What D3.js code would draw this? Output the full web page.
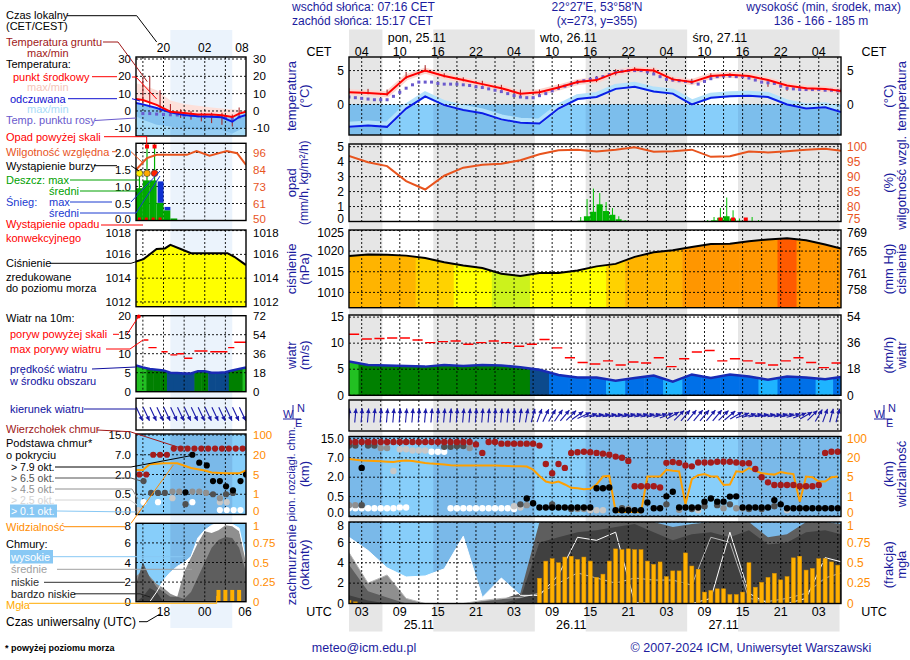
<!DOCTYPE html>
<html><head><meta charset="utf-8">
<script src="https://cdn.jsdelivr.net/npm/d3@7/dist/d3.min.js"></script>
<style>
html,body{margin:0;padding:0;background:#fff;}
svg text{font-family:"Liberation Sans",Arial,Helvetica,sans-serif;}
</style></head><body>
<svg id="chart" width="910" height="660" xmlns="http://www.w3.org/2000/svg"></svg>
<script>
// ======================= DATA =======================
const sunriseUTC = 6.27, sunsetUTC = 14.28;           // 07:16 / 15:17 CET
const hours = [1,4,7,10,13,16,19,22,25,28,31,34,37,40,43,46,49,52,55,58,61,64,67,70,73,76,78.5];
const tempMid   = [1.8,1.7,1.5,4.0,5.0,4.2,3.6,3.0,2.4,1.6,1.8,2.5,3.3,3.6,4.7,5.15,5.0,3.7,3.3,4.2,4.4,4.2,3.6,2.8,2.4,2.3,2.0];
const tempFeels = [-3.3,-3.1,-3.3,-0.6,1.2,-0.1,-0.8,-1.3,-2.2,-2.7,-2.8,-0.6,0.8,1.1,2.3,2.6,1.9,1.6,0.0,1.0,1.2,1.3,1.1,0.0,-0.6,-0.4,-1.1];
const groundMax = [2.4,2.3,2.2,4.8,5.8,4.6,4.0,3.5,2.9,2.2,2.2,3.0,3.6,4.2,5.2,5.5,5.4,4.0,3.8,4.6,4.6,4.2,3.3,2.6,2.5,2.4,2.2];
const groundMin = [1.6,1.5,1.3,3.8,4.8,4.0,3.4,2.8,2.2,1.2,1.4,2.2,3.0,3.3,4.3,4.8,4.6,3.4,3.0,3.9,4.0,3.8,2.6,2.0,2.0,2.0,1.8];
const dewPoint = [1.1,1.0,0.9,0.8,0.7,0.7,0.7,1.2,1.8,2.4, 2.9,3.3,3.3,3.3,3.1,3.0,3.0,3.0,2.9,2.8,
  2.6,2.5,2.3,2.1,1.9,1.6,1.3,1.1,1.0,1.0, 1.3,1.6,2.0,2.4,2.7,3.0,3.3,3.5,3.7,3.9,
  4.1,4.4,4.7,4.9,5.0,5.0,5.0,4.8,4.5,4.1, 3.7,3.6,3.5,3.4,3.3,3.0,3.4,3.8,4.1,4.2,
  4.2,4.1,4.1,3.9,3.6,3.3,3.2,3.1,2.7,2.4, 2.3,2.2,2.2,2.2,2.2,2.1,2.1,2.0];
const humidity = [96.9,94.8,93.5,88.5,85.7,90.3,93.0,94.0,94.3,95.5,97.5,98.8,99.0,98.4,99.0,99.8,98.3,98.5,99.0,96.6,96.8,98.4,98.1,98.5,99.0,99.3,98.6];
const precipHours = [37,38,39,40,41,42,43,44,57,58,59,60,61,62,63,64,65];
const rainMean = [0.05,0.35,0.65,1.15,0.7,0.45,0.15,0.05,0.02,0.08,0.25,0.35,0.2,0.05,0.03,0.02,0.01];
const rainMax  = [0.3,1.5,2.2,1.9,1.3,0.9,0.35,0.1,0.1,0.3,0.9,1.6,0.75,0.2,0.2,0.3,0.1];
const convHours = [59.5,61.5,63.5];
const pressure = [1018.8,1019.2,1019.1,1018.9,1018.3,1017.3,1016.5,1015.9,1014.5,1014.0,1014.7,1014.7,1015.3,1016.3,1016.9,1018.6,1019.7,1020.2,1021.0,1021.7,1021.8,1022.4,1022.8,1023.1,1022.6,1021.6,1020.6];
const windSpeed = [6.5,5.8,5.7,5.6,5.5,5.8,5.6,5.8,5.7,5.4,4.9,3.9,3.4,3.4,2.8,3.3,3.8,2.6,4.0,3.3,4.0,3.6,3.0,3.6,3.4,3.1,3.5];
const gustHours = [1,3,5,7,9,11,13,15,17,19,21,23,25,27,29,31,33,35,37,39,41,43,45,47,49,51,53,55,57,59,61,63,65,67,69,71,73,75,77];
const gusts = [11.7,10.8,10.9,11.0,11.0,10.6,10.1,10.3,10.4,9.8,10.1,10.4,10.1,9.4,9.8,10.7,9.1,7.2,6.3,6.0,6.6,5.8,6.4,6.2,7.2,5.5,7.0,8.3,8.6,6.6,7.0,6.6,6.2,5.8,6.6,7.2,6.3,5.3,6.2];
const windDir = [5,5,5,5,5,5,5,5,5,5, 5,5,5,5,5,5,5,5,5,5, 5,5,5,5,5,5,5,8,10,
  15,20,25,30,35,40,45,55,65, 75,80,80,80,80,80,78,78,78,78,78,75,70,60,
  45,40,40,40,40,40,40,45,50,60, 70,75,78,80,80,80,78,78,75,70,60,45, 30,20,15,15];
const cloudTop = [13.5,13.5,13.5,13.5,13.5,13.5,13.5,13.5,13.5,13.5, 13.5,13.5,13.5,13.5,13.5,13.5,13.5,13.5,13.5,13.5,
  12.5,9.0,13.5,13.5,12.8,12.8,12.8,12.8,12.8,12.8, 12.0,5.4,3.0,5.4,4.4,9.0,9.3,9.5,9.3,9.0,
  8.7,8.3,7.5,7.0,6.2,1.3,1.3,1.3,1.3,1.2, 5.7,5.9,5.7,5.0,4.8,5.8,5.8,5.8,6.0,6.0,
  6.0,5.8,5.6,5.6,4.1,2.0,1.6,1.4,1.4,1.4, 1.4,1.3,1.3,1.3,1.4,9.0,9.5,9.5];
const base79 = [null,null,4.4,null,null,null,null,null,null,null, null,null,null,null,null,null,null,null,null,null,
  null,null,null,null,null,null,null,null,0.45,0.33, 0.22,0.22,0.22,0.22,0.22,0.22,0.22,0.22,0.22,1.15,
  1.15,1.2,0.15,0.15,0.15,0.15,0.15,0.35,0.2,0.2, 0.52,0.87,0.22,0.22,0.22,0.22,0.37,0.45,0.37,0.37,
  0.5,0.52,0.22,0.22,0.22,0.22,0.22,0.41,0.3,0.2, 0.2,0.2,0.2,0.2,0.2,0.2,0.2,0.2];
const base65 = [[1,12.0],[2,12.0],[3,0.28],[4,12.0],[5,12.0],[16,11.5],[17,11.5],[18,11.8],[19,11.8],[28,0.3],[33,0.3],[36,0.18],[44,0.2],[51,0.3],[55,0.18],[57,0.25],[59,0.28],[61,0.3],[64,0.18],[66,0.18],[68,0.25]];
const base45 = [[1,0.28],[2,0.28],[6,11.0],[7,11.0],[20,11.0],[29,0.28],[37,0.18],[38,0.18],[45,0.18],[53,0.16],[60,0.2],[62,0.2],[63,0.2]];
const base25 = [[8,3.6],[9,10.5],[10,10.5],[11,10.0],[12,10.0],[13,10.0],[27,0.25],[28,0.22],[39,0.15],[40,0.15],[41,0.15],[56,0.15],[70,0.15]];
const base01 = [[1,0.2],[2,0.2],[3,0.2],[4,0.2],[5,0.2],[6,0.2],[7,0.2],[8,0.2],[9,0.22],[10,0.22],[14,9.5],[15,9.5],[16,9.5],[17,0.2],[18,0.2],[19,0.2],[20,0.2],[21,0.2],[22,0.2],[23,0.2],[24,0.2],[25,0.2],[26,0.2],[27,0.18]];
const visibility = [19,18.5,18,17.8,17.5,17.3,17,16.8,17.5,17.9, 17.5,16.8,16,15.5,15.2,14.8,14.3,14,14,14,
  14,14,14,14,13.8,13.6,13.5,13.4,13.2,10.8, 6,4.1,3.8,4.1,3.5,2.8,2.7,2.5,2.6,3.5,
  5.5,6,0.22,0.2,0.2,0.2,0.19,5.5,5.5,5.6, 10.8,10,9.5,0.6,4.6,6.5,7.4,5.5,5.6,3.4,
  3.5,9.5,9,12.1,10,8,7.4,7,9,8, 7.4,0.74,5.5,5,4.1,4.1,5,5.5];
const cloudHigh = [6.5,5.2,3.5,2.6,2.7,3.4,6.6,0.6,2.5,0.8,0.8,2.8,6.5,6.2,7.0,0.1,0,0,0,0.5,7.0,1.0,0,0,0.5,4.5,4.1];
const cloudMid  = [5.0,2.0,2.8,0.5,0,0,0,0.3,0.5,0.6,1.0,2.0,3.0,2.5,2.0,2.5,2.3,2.3,1.8,6.5,6.0,0.5,0.2,0.5,1.0,2.5,3.0];
const cloudLow  = [3.8,1.2,0.6,0,0,0,0,0.2,0.4,1.0,8.0,8.0,8.0,8.0,8.0,8.0,8.0,7.5,7.8,8.0,8.0,8.0,6.5,6.8,8.0,8.0,7.8];
const cloudVLow = [0.8,0.3,0,0,0,0,0,0,0,0.5,6.0,6.5,7.0,7.2,7.5,7.8,7.0,6.2,6.8,7.0,6.5,7.2,5.8,6.0,7.0,7.2,6.8];
const fog = [0.04,0.02,0,0,0,0,0,0,0,0, 0,0,0,0,0,0,0,0,0,0, 0,0,0,0,0,0,0,0,0,0,
  0.31,0.52,0.55,0.50,0.57,0.58,0.54,0.57,0.52,0.32, 0.36,0.52,0.67,0.66,0.67,0.66,0.66,0.52,0.48,0.51,
  0.33,0.40,0.40,0.62,0.46,0.42,0.14,0.16,0.18,0.18, 0.11,0.11,0.14,0.50,0.20,0.26,0.32,0.37,0.29,0.33,
  0.56,0.58,0.41,0.43,0.55,0.55,0.51,0.47];
// tick labels
const cetLabels = ["04","10","16","22","04","10","16","22","04","10","16","22","04"];
const utcLabels = ["03","09","15","21","03","09","15","21","03","09","15","21","03"];
const dayLabels = ["pon, 25.11","wto, 26.11","śro, 27.11"];
const dateLabels = ["25.11","26.11","27.11"];
const tempTicks = [5,0];
const precipTicks = [5,4,3,2,1,0];
const rhTicks = [100,95,90,85,80,75];
const pressTicks = [1025,1020,1015,1010];
const mmHgTicks = [769,765,761,758];
const windTicks = [15,10,5,0];
const kmhTicks = [54,36,18,0];
const baseTicks = [15,7,2,0.5,0];
const visTicks = [100,20,5,1,0];
const cloudTicks = [8,6,4,2,0];
const fogTicks = [1,0.75,0.5,0.25,0];
// legend (mini) data, CET hours
const miniTH = [16,17,19,21,23,25,27,28.5,30,31,32];
const miniTemp  = [6.9,6.3,3.5,-0.4,-1.2,-2.0,-2.0,-2.5,-3.5,-1.5,-0.4];
const miniFeels = [4.6,3.8,1.7,-0.8,-2.3,-3.0,-3.3,-3.6,-6.2,-3.5,-2.3];
const miniTMax  = [16,15,12,6,4,3,2,1.5,1,0.5,0];
const miniFeelsMin = [-3,-5,-8,-9,-10,-11,-11,-11,-13,-11,-9];
const miniDewH = [17,18,19,20,21,22,23,24,25,26,27,28,29,30,31];
const miniDew  = [-1.5,-1.5,-1.8,-2,-2.2,-2.3,-2.5,-2.5,-2.8,-3,-3,-3.2,-3.8,-4.5,-3.5];
const miniGroundH = [17,18,19.5,21,22.5,24,25.5,27,28.5,30,31];
const miniGroundMax = [19,20,12,4,1,0,-1,-1,-1,-2,2];
const miniGroundMin = [3,2,-1,-2,-4,-5,-6,-7,-8,-9,-4];
const miniRainH = [16,17,18,19,20,21];
const miniRain  = [0.95,1.18,1.18,0.52,0.3,0.06];
const miniSnow  = [0,0,0,0.63,0.1,0];
const miniRainMaxH = [16.5,17.6,18.7];
const miniRainMax  = [1.35,2.6,2.6];
const miniStormColors = ["#ffee00","#ffaa00","#ff2000"];
const miniConvH = [16.5,17.5,18.5,19.5];
const miniRHH = [16,17.6,19,23.4,24.8,26.7,29.2,30.7,32];
const miniRH  = [84.3,92.2,94.4,94.4,96.9,93.8,97.0,95.5,87.7];
const miniPressH = [16,17.1,19,20.2,21,22.5,24,29.3,30.3,32];
const miniPress  = [1015.4,1015.6,1016.45,1016.5,1016.8,1016.45,1016.1,1016.1,1015.8,1015.1];
const miniWindH = [16,17,18,19,20,21,22,23,24,25,26,27,28,29,30,31,32];
const miniWind  = [6.9,6.4,6.0,5.8,5.6,5.0,4.9,4.8,4.8,5.4,5.4,5.0,5.0,5.1,5.6,6.0,6.4];
const miniGusts = [[17.1,17.8,13.6],[17.8,19,11.6],[19.7,20.6,10.5],[21,22,9.7],[22,23,10.0],[23,24.2,8.8],[24.5,26.4,10.7],[26.8,29.3,10.5],[29.4,30.3,11.6],[30.3,32,13.0]];
const miniDirH = [16.5,17.5,18.5,19.5,20.5,21.5,22.5,23.5,24.5,25.5,26.5,27.5,28.5,29.5,30.5,31.5];
const miniCbTop = [[16.5,2],[17.5,2],[18.5,7],[19.5,7],[20.5,7],[21.5,9.5],[22.5,9.5],[23.5,9.5],[24.5,9.5],[25.5,9.5],[26.5,9.5],[27.5,9.5],[28.5,9.5],[29.5,9.5],[30.5,9.5],[31.5,9.5]];
const miniCb79 = [[23.2,0.65],[24.2,7.0],[25.2,5.0],[26.3,4.3],[27.2,1.5],[28.2,1.5],[29.1,1.1],[30.1,0.8],[31.2,1.5],[32,2.0]];
const miniCb65 = [[17.1,1.5],[18.2,0.6],[19.2,0.6],[20.2,0.6],[23.2,0.25],[27.2,0.5],[29.1,0.5],[30.1,0.6]];
const miniCb45 = [[21.3,0.7],[22.3,0.7],[24.2,0.7],[25.2,0.7],[26.2,0.6],[28.2,0.4]];
const miniCb25 = [[16.3,0.1],[21.3,0.4],[28.2,0.3],[29.2,0.3]];
const miniCb01 = [[17.1,0.3],[19.2,0.3],[24.2,0.3],[28.2,0.1],[29.2,0.1],[30.2,0.1],[31.2,0.1]];
const miniVisH = [16,17,18,20,22,24,26,27,29,31,32];
const miniVis  = [8.4,8.4,12.8,13.5,13.5,10,8,6.5,5.9,5.9,8];
const miniCloudH = [16,17,18,19,20,21,22,23,24,25,26,27,28,29,30,31,32];
const miniHigh = [0,0,0,1.0,2.2,3.0,3.6,4.0,4.6,6.5,7.3,7.8,8.0,7.9,7.9,7.5,4.2];
const miniMid  = [2.6,3.2,2.6,1.8,1.4,0.8,0.5,3.0,4.5,6.0,7.2,7.0,7.3,7.8,7.7,7.2,4.3];
const miniLow  = [1.8,4.0,2.5,1.5,1.0,0.5,0.5,0.3,1.0,2.5,4.0,5.5,6.3,6.6,6.5,5.5,3.0];
const miniVLow = [0,0.5,1.4,1.0,0,0,0,0,0,0,0,0,0,0,0,0,0];
const miniFogH = [28,29,30,31];
const miniFog  = [0.15,0.15,0.15,0.15];

// ======================= DRAW =======================
const svg = d3.select("#chart");
const NAVY = "#1c1c9e", ORANGE = "#ff8c00", RHC = "#e8541e";
svg.append("rect").attr("width",910).attr("height",660).attr("fill","#fff");
const defs = svg.append("defs");
let clipN = 0;
function clipRect(x0,y0,w,h){const id="cl"+(clipN++);defs.append("clipPath").attr("id",id).append("rect").attr("x",x0).attr("y",y0).attr("width",w).attr("height",h);return `url(#${id})`;}
function clipD(d){const id="cl"+(clipN++);defs.append("clipPath").attr("id",id).append("path").attr("d",d);return `url(#${id})`;}
function T(g,x,y,s,o={}){const t=g.append("text").attr("x",x).attr("y",y).attr("dy","0.35em")
  .attr("font-size",o.size||12).attr("fill",o.fill||"#000").attr("text-anchor",o.anchor||"start").text(s);
  if(o.weight)t.attr("font-weight",o.weight); if(o.rot)t.attr("transform",`rotate(-90,${x},${y})`); return t;}
function L(g,pts,c,w=1){g.append("polyline").attr("points",pts.map(p=>p.join(",")).join(" ")).attr("fill","none").attr("stroke",c).attr("stroke-width",w);}
function R(g,x0,y0,w,h,f){return g.append("rect").attr("x",x0).attr("y",y0).attr("width",Math.max(0,w)).attr("height",Math.max(0,h)).attr("fill",f);}
function arrow(g,cx,cy,deg,len,c){const r=deg*Math.PI/180,dx=Math.sin(r),dy=-Math.cos(r);
  const x1=cx-dx*len/2,y1=cy-dy*len/2,x2=cx+dx*len/2,y2=cy+dy*len/2;
  g.append("line").attr("x1",x1).attr("y1",y1).attr("x2",x2).attr("y2",y2).attr("stroke",c).attr("stroke-width",1.1);
  const hl=4.5,hw=2.3,bx=x2-dx*hl,by=y2-dy*hl,px=-dy,py=dx;
  g.append("path").attr("d",`M${x2},${y2}L${bx+px*hw},${by+py*hw}L${bx-px*hw},${by-py*hw}Z`).attr("fill",c);}
const windColor = d3.scaleThreshold().domain([2.5,3.3,4.5,5.2,6.3]).range(["#00e6ff","#1eb4ff","#0070e8","#0c4a8c","#008000","#22c022"]);
const pressColor = d3.scaleThreshold().domain([1014.6,1016.8,1018.5,1020.3,1022.9]).range(["#ccf21c","#ffff00","#ffd200","#ffb400","#ff9600","#ff5a00"]);

// ---------- main time axis ----------
const X0=349, X1=841, H0=1, H1=78.5;
const x = d3.scaleLinear().domain([H0,H1]).range([X0,X1]);
const nights=[];
for(let d=0;d<4;d++){const a=Math.max(H0,(d-1)*24+sunsetUTC),b=Math.min(H1,d*24+sunriseUTC);if(b>a)nights.push([a,b]);}
const gridHours = d3.range(3,H1,3);
const labelHours = d3.range(3,H1,6);

const gb = svg.append("g");
R(gb,X0,29.5,X1-X0,602,"#ffffff");
nights.forEach(n=>R(gb,x(n[0]),29.5,x(n[1])-x(n[0]),602,"#e6e6e6"));

function panel(y0,y1){return svg.append("g").attr("clip-path",clipRect(X0,y0,X1-X0,y1-y0));}
function bands(g,y0,y1,day,night){R(g,X0,y0,X1-X0,y1-y0,day);nights.forEach(n=>R(g,x(n[0]),y0,x(n[1])-x(n[0]),y1-y0,night));}
function grid(g,y0,y1,ys){
  gridHours.forEach(h=>g.append("line").attr("x1",x(h)).attr("x2",x(h)).attr("y1",y0).attr("y2",y1).attr("stroke","#000").attr("stroke-width",0.9).attr("stroke-dasharray","2,2"));
  ys.forEach(y=>g.append("line").attr("x1",X0).attr("x2",X1).attr("y1",y).attr("y2",y).attr("stroke","#000").attr("stroke-width",0.9).attr("stroke-dasharray","2,2"));}
function frame(y0,y1){svg.append("rect").attr("x",X0).attr("y",y0).attr("width",X1-X0).attr("height",y1-y0).attr("fill","none").attr("stroke","#000").attr("stroke-width",1.4);}
function leftLabels(vals,pos,fmt,c){vals.forEach((v,i)=>T(svg,344,pos[i],fmt?fmt(v):String(v),{anchor:"end",fill:c||"#000"}));}
function rightLabels(vals,pos,c){vals.forEach((v,i)=>T(svg,847,pos[i],String(v),{fill:c||"#000"}));}
function titles(yc,l1,l2,r1,r2,s1,s2){const a={rot:true,anchor:"middle",fill:NAVY,size:13};
  T(svg,291,yc,l1,Object.assign({},a,{size:s1||13}));T(svg,304,yc,l2,Object.assign({},a,{size:s2||13}));T(svg,888,yc,r1,a);T(svg,901,yc,r2,a);}
const nudge=(arr,i,d)=>arr.map((v,k)=>k===i?v+d:v);

// ---------- header ----------
T(svg,292,7,"wschód słońca: 07:16 CET",{fill:NAVY});
T(svg,292,21,"zachód słońca: 15:17 CET",{fill:NAVY});
T(svg,597,7,"22°27'E, 53°58'N",{fill:NAVY,anchor:"middle"});
T(svg,597,21,"(x=273,  y=355)",{fill:NAVY,anchor:"middle"});
T(svg,901,7,"wysokość (min, środek, max)",{fill:NAVY,anchor:"end"});
T(svg,821,21,"136 - 166 - 185 m",{fill:NAVY,anchor:"middle"});
dayLabels.forEach((s,i)=>T(svg,x(7.1+24*i),38,s,{size:12.5}));
labelHours.forEach((h,i)=>{T(svg,x(h),51.5,cetLabels[i],{anchor:"middle",size:12.5});T(svg,x(h),611.5,utcLabels[i],{anchor:"middle",size:12.5});});
T(svg,319,51.5,"CET",{anchor:"middle",size:12.5});T(svg,874,51.5,"CET",{anchor:"middle",size:12.5});
T(svg,319,611.5,"UTC",{anchor:"middle",size:12.5});T(svg,874,611.5,"UTC",{anchor:"middle",size:12.5});
dateLabels.forEach((s,i)=>T(svg,x(12+24*i),625,s,{anchor:"middle",size:12.5}));
T(svg,364,648,"meteo@icm.edu.pl",{fill:NAVY,anchor:"middle",size:12.5});
T(svg,751,648,"© 2007-2024 ICM, Uniwersytet Warszawski",{fill:NAVY,anchor:"middle",size:12.5});

// ---------- temperature ----------
const PT={y0:57,y1:135}; const yT=d3.scaleLinear().domain([-4.5,7]).range([135,57]);
{ const g=panel(PT.y0,PT.y1); bands(g,PT.y0,PT.y1,"#fff","#e6e6e6");
  const z=yT(0); R(g,X0,z,X1-X0,PT.y1-z,"#87cefa"); nights.forEach(n=>R(g,x(n[0]),z,x(n[1])-x(n[0]),PT.y1-z,"#7cbeec"));
  const ln=d3.line().x(d=>x(d[0])).y(d=>yT(d[1]));
  g.append("path").datum(d3.zip(hours,tempFeels)).attr("d",ln).attr("fill","none").attr("stroke","#b4e2fb").attr("stroke-width",6).attr("transform","translate(0,-2)");
  g.append("path").datum(d3.zip(hours,tempMid)).attr("d",ln).attr("fill","none").attr("stroke","#fbd6cf").attr("stroke-width",6);
  grid(g,PT.y0,PT.y1,tempTicks.map(yT));
  hours.forEach((h,i)=>g.append("line").attr("x1",x(h)).attr("x2",x(h)).attr("y1",yT(groundMin[i])).attr("y2",yT(groundMax[i])).attr("stroke","#a01818").attr("stroke-width",1));
  dewPoint.forEach((v,i)=>R(g,x(i+1)-1.5,yT(v)-1.5,3,3,"#6a5acd"));
  g.append("path").datum(d3.zip(hours,tempFeels)).attr("d",ln).attr("fill","none").attr("stroke","#0a1ee6").attr("stroke-width",2);
  g.append("path").datum(d3.zip(hours,tempMid)).attr("d",ln).attr("fill","none").attr("stroke","#ff0000").attr("stroke-width",2);
  frame(PT.y0,PT.y1); leftLabels(tempTicks,tempTicks.map(yT)); rightLabels(tempTicks,tempTicks.map(yT));
  titles((PT.y0+PT.y1)/2,"temperatura","(°C)","(°C)","temperatura"); }

// ---------- precipitation / humidity ----------
const PP={y0:144,y1:221.5}; const yP=d3.scaleLinear().domain([0,5.18]).range([221.5,144]); const yRH=d3.scaleLinear().domain([75,100.9]).range([221.5,144]);
{ const g=panel(PP.y0,PP.y1); bands(g,PP.y0,PP.y1,"#fff","#e6e6e6");
  grid(g,PP.y0,PP.y1,precipTicks.map(yP));
  precipHours.forEach((h,i)=>{R(g,x(h),yP(rainMean[i]),x(h+1)-x(h)-0.3,PP.y1-yP(rainMean[i]),"#00b400");
    g.append("line").attr("x1",x(h+0.5)).attr("x2",x(h+0.5)).attr("y1",PP.y1).attr("y2",yP(rainMax[i])).attr("stroke","#00c000").attr("stroke-width",1);});
  convHours.forEach(h=>R(g,x(h)-2,PP.y1-4,4,4,"#ff0000"));
  g.append("path").datum(d3.zip(hours,humidity)).attr("d",d3.line().x(d=>x(d[0])).y(d=>yRH(d[1]))).attr("fill","none").attr("stroke",RHC).attr("stroke-width",2);
  frame(PP.y0,PP.y1); const pos=nudge(precipTicks.map(yP),5,-2.5); leftLabels(precipTicks,pos); rightLabels(rhTicks,pos,RHC);
  titles((PP.y0+PP.y1)/2,"opad","(mm/h, kg/m²/h)","(%)","wilgotność wzgl.",13,12); }

// ---------- pressure ----------
const PR={y0:230,y1:307.7}; const yPr=d3.scaleLinear().domain([1006.3,1025.1]).range([307.7,230]);
{ const g=panel(PR.y0,PR.y1); bands(g,PR.y0,PR.y1,"#fff","#e6e6e6");
  const pts=d3.zip(hours,pressure);
  const area=d3.area().x(d=>x(d[0])).y0(PR.y1).y1(d=>yPr(d[1]));
  const gc=g.append("g").attr("clip-path",clipD(area(pts)));
  hours.forEach((h,i)=>{const a=i?(hours[i-1]+h)/2:H0,b=i<hours.length-1?(h+hours[i+1])/2:H1;R(gc,x(a),PR.y0,x(b)-x(a)+0.5,PR.y1-PR.y0,pressColor(pressure[i]));});
  grid(g,PR.y0,PR.y1,pressTicks.map(yPr));
  g.append("path").datum(pts).attr("d",d3.line().x(d=>x(d[0])).y(d=>yPr(d[1]))).attr("fill","none").attr("stroke","#000").attr("stroke-width",2);
  frame(PR.y0,PR.y1); leftLabels(pressTicks,nudge(pressTicks.map(yPr),0,2)); rightLabels(mmHgTicks,nudge(mmHgTicks.map(m=>yPr(m*1.33322)),0,3));
  titles((PR.y0+PR.y1)/2,"ciśnienie","(hPa)","(mm Hg)","ciśnienie"); }

// ---------- wind ----------
const PW={y0:315,y1:395.3}; const yW=d3.scaleLinear().domain([0,15.4]).range([395.3,315]);
{ const g=panel(PW.y0,PW.y1); bands(g,PW.y0,PW.y1,"#fff","#e6e6e6");
  const pts=d3.zip(hours,windSpeed);
  const area=d3.area().x(d=>x(d[0])).y0(PW.y1).y1(d=>yW(d[1]));
  const gc=g.append("g").attr("clip-path",clipD(area(pts)));
  hours.forEach((h,i)=>{const a=i?(hours[i-1]+h)/2:H0,b=i<hours.length-1?(h+hours[i+1])/2:H1;R(gc,x(a),PW.y0,x(b)-x(a)+0.5,PW.y1-PW.y0,windColor(windSpeed[i]));});
  grid(g,PW.y0,PW.y1,windTicks.map(yW));
  gustHours.forEach((h,i)=>g.append("line").attr("x1",x(h)).attr("x2",x(h+1.6)).attr("y1",yW(gusts[i])).attr("y2",yW(gusts[i])).attr("stroke","#ff0000").attr("stroke-width",1.4));
  g.append("path").datum(pts).attr("d",d3.line().x(d=>x(d[0])).y(d=>yW(d[1]))).attr("fill","none").attr("stroke","#1a2ab4").attr("stroke-width",2.5);
  frame(PW.y0,PW.y1); leftLabels(windTicks,windTicks.map(yW)); rightLabels(kmhTicks,windTicks.map(yW));
  titles((PW.y0+PW.y1)/2,"wiatr","(m/s)","(km/h)","wiatr"); }

// ---------- wind direction ----------
const PD={y0:400,y1:431};
{ const g=panel(PD.y0,PD.y1); bands(g,PD.y0,PD.y1,"#fff","#e6e6e6"); grid(g,PD.y0,PD.y1,[]);
  windDir.forEach((d,i)=>arrow(g,x(i+1),415.5,d,14,"#1a1aa8"));
  frame(PD.y0,PD.y1);
  [292,883].forEach(cx=>{L(svg,[[cx-9,419],[cx+9,419]],NAVY,1);L(svg,[[cx+1,405],[cx+1,419]],NAVY,1);
    T(svg,cx+5,408,"N",{fill:NAVY,size:11});T(svg,cx-9,414,"W",{fill:NAVY,size:11});T(svg,cx+3,423,"E",{fill:NAVY,size:11});}); }

// ---------- cloud base / visibility ----------
const PC={y0:436.5,y1:516.5};
const yC=d3.scaleLinear().domain([0,0.5,2,7,15]).range([516,496.6,477.2,457.8,438.3]).clamp(true);
const yV=d3.scaleLinear().domain([0,1,5,20,100]).range([516,496.6,477.2,457.8,438.3]).clamp(true);
{ const g=panel(PC.y0,PC.y1); bands(g,PC.y0,PC.y1,"#87cefa","#7ab9e9");
  grid(g,PC.y0,PC.y1,baseTicks.map(yC));
  g.append("path").datum(visibility.map((v,i)=>[i+1,v])).attr("d",d3.line().x(d=>x(d[0])).y(d=>yV(d[1]))).attr("fill","none").attr("stroke","#ffa000").attr("stroke-width",2);
  const dot=(h,v,c)=>g.append("circle").attr("cx",x(h)).attr("cy",yC(v)).attr("r",3.2).attr("fill",c);
  base01.forEach(p=>dot(p[0],p[1],"#ffffff")); base25.forEach(p=>dot(p[0],p[1],"#c8c8c8"));
  base45.forEach(p=>dot(p[0],p[1],"#909090")); base65.forEach(p=>dot(p[0],p[1],"#505050"));
  base79.forEach((v,i)=>{if(v!=null)dot(i+1,v,"#000");});
  cloudTop.forEach((v,i)=>dot(i+1,v,"#a41c1c"));
  frame(PC.y0,PC.y1); const pos=nudge(baseTicks.map(yC),4,-3.5); leftLabels(baseTicks,pos,v=>v.toFixed(1)); rightLabels(visTicks,pos,ORANGE);
  titles(474,"pion. rozciągł. chm.","(km)","(km)","widzialność",11); }

// ---------- cloud cover / fog ----------
const PK={y0:522,y1:603.5}; const yK=d3.scaleLinear().domain([0,8]).range([603.5,522]); const yF=d3.scaleLinear().domain([0,1]).range([603.5,522]);
{ const g=panel(PK.y0,PK.y1); bands(g,PK.y0,PK.y1,"#87cefa","#7ab9e9");
  const ar=d3.area().x(d=>x(d[0])).y0(PK.y1).y1(d=>yK(d[1]));
  [[cloudHigh,"#ffffff"],[cloudMid,"#8f8f8f"],[cloudLow,"#5e5e5e"],[cloudVLow,"#404040"]].forEach(([a,c])=>g.append("path").datum(d3.zip(hours,a)).attr("d",ar).attr("fill",c));
  const ln=d3.line().x(d=>x(d[0])).y(d=>yK(d[1]));
  g.append("path").datum(d3.zip(hours,cloudMid)).attr("d",ln).attr("fill","none").attr("stroke","#b8b8b8").attr("stroke-width",1);
  g.append("path").datum(d3.zip(hours,cloudHigh)).attr("d",ln).attr("fill","none").attr("stroke","#ffffff").attr("stroke-width",1);
  grid(g,PK.y0,PK.y1,cloudTicks.map(yK));
  fog.forEach((v,i)=>{if(v>0){const h=i+1;g.append("rect").attr("x",x(h)-2).attr("y",yF(v)).attr("width",4).attr("height",PK.y1-yF(v)).attr("fill","#ffb000").attr("stroke","#d89000").attr("stroke-width",0.5);}});
  frame(PK.y0,PK.y1); leftLabels(cloudTicks,nudge(cloudTicks.map(yK),0,4)); rightLabels(fogTicks,nudge(fogTicks.map(yF),0,4),ORANGE);
  titles((PK.y0+PK.y1)/2+2,"zachmurzenie","(oktanty)","(frakcja)","mgła"); }

// ======================= LEGEND (mini panels) =======================
const MX0=136, MX1=246;
const mx=d3.scaleLinear().domain([16,32]).range([MX0,MX1]);
R(svg,mx(21),30,mx(30)-mx(21),598,"#ebf3fc");
const mGridH=[17,20,23,26,29];
function mpanel(y0,y1){return svg.append("g").attr("clip-path",clipRect(MX0,y0,MX1-MX0,y1-y0));}
function mgrid(g,y0,y1,ys){mGridH.forEach(h=>g.append("line").attr("x1",mx(h)).attr("x2",mx(h)).attr("y1",y0).attr("y2",y1).attr("stroke","#000").attr("stroke-width",0.9).attr("stroke-dasharray","2,2"));
  ys.forEach(y=>g.append("line").attr("x1",MX0).attr("x2",MX1).attr("y1",y).attr("y2",y).attr("stroke","#000").attr("stroke-width",0.9).attr("stroke-dasharray","2,2"));}
function mframe(y0,y1){svg.append("rect").attr("x",MX0).attr("y",y0).attr("width",MX1-MX0).attr("height",y1-y0).attr("fill","none").attr("stroke","#000").attr("stroke-width",1.4);}
function mlabels(lv,rv,ys,rc){lv.forEach((s,i)=>T(svg,131,ys[i],String(s),{anchor:"end",size:11.5}));rv.forEach((s,i)=>T(svg,253,ys[i],String(s),{size:11.5,fill:rc||"#000"}));}
function mbands(g,y0,y1,day,night){R(g,MX0,y0,MX1-MX0,y1-y0,day);R(g,mx(21),y0,mx(30)-mx(21),y1-y0,night);}

T(svg,mx(20),48,"20",{anchor:"middle",size:12});T(svg,mx(26),48,"02",{anchor:"middle",size:12});T(svg,242,48,"08",{anchor:"middle",size:12});
T(svg,mx(20),612,"18",{anchor:"middle",size:12});T(svg,mx(26),612,"00",{anchor:"middle",size:12});T(svg,245,612,"06",{anchor:"middle",size:12});

// mini temperature
{ const y0=57,y1=136, ym=d3.scaleLinear().domain([-10,30]).range([128.3,59]); const g=mpanel(y0,y1);
  const z=ym(0); R(g,MX0,z,MX1-MX0,y1-z,"#a8dcf8"); R(g,mx(21),z,mx(30)-mx(21),y1-z,"#96cdf3");
  g.append("path").datum(d3.zip(miniTH,miniFeels,miniFeelsMin)).attr("d",d3.area().x(d=>mx(d[0])).y0(d=>ym(d[2])).y1(d=>ym(d[1]))).attr("fill","#84c2ee");
  g.append("path").datum(d3.zip(miniTH,miniTemp,miniTMax)).attr("d",d3.area().x(d=>mx(d[0])).y0(d=>ym(d[1])).y1(d=>ym(d[2]))).attr("fill","#fde0da");
  mgrid(g,y0,y1,[30,20,10,0,-10].map(ym));
  miniGroundH.forEach((h,i)=>g.append("line").attr("x1",mx(h)).attr("x2",mx(h)).attr("y1",ym(miniGroundMin[i])).attr("y2",ym(miniGroundMax[i])).attr("stroke","#a01818").attr("stroke-width",1));
  miniDewH.forEach((h,i)=>R(g,mx(h)-1.5,ym(miniDew[i])-1.5,3,3,"#6a5acd"));
  const ln=d3.line().x(d=>mx(d[0])).y(d=>ym(d[1]));
  g.append("path").datum(d3.zip(miniTH,miniFeels)).attr("d",ln).attr("fill","none").attr("stroke","#0a1ee6").attr("stroke-width",2);
  g.append("path").datum(d3.zip(miniTH,miniTemp)).attr("d",ln).attr("fill","none").attr("stroke","#ff0000").attr("stroke-width",2);
  mframe(y0,y1); const v=[30,20,10,0,-10]; mlabels(v,v,v.map(ym)); }

// mini precipitation
{ const y0=143.3,y1=220.5, ym=d3.scaleLinear().domain([0,2.27]).range([220.5,143.3]), yr=d3.scaleLinear().domain([50,96]).range([220.5,152.5]); const g=mpanel(y0,y1);
  mgrid(g,y0,y1,[2,1.5,1,0.5].map(ym));
  miniRainH.forEach((h,i)=>{R(g,mx(h),ym(miniRain[i]),mx(h+1)-mx(h),y1-ym(miniRain[i]),"#00a800");
    if(miniSnow[i]>0)R(g,mx(h)+1,ym(miniRain[i]+miniSnow[i]),mx(h+1)-mx(h)-1,ym(miniRain[i])-ym(miniRain[i]+miniSnow[i]),"#1030d0");});
  miniRainMaxH.forEach((h,i)=>g.append("line").attr("x1",mx(h)).attr("x2",mx(h)).attr("y1",y1).attr("y2",ym(miniRainMax[i])).attr("stroke","#00b000").attr("stroke-width",1.2));
  miniConvH.forEach(h=>R(g,mx(h)-1.5,y1-3,3,3,"#ff0000"));
  g.append("path").datum(d3.zip(miniRHH,miniRH)).attr("d",d3.line().x(d=>mx(d[0])).y(d=>yr(d[1]))).attr("fill","none").attr("stroke",RHC).attr("stroke-width",2);
  mframe(y0,y1);
  miniRainMaxH.forEach((h,i)=>{if(miniRainMax[i]>2.27)R(svg,mx(h)-2,144.5,4,4,"#ff0000");
    svg.append("circle").attr("cx",mx(h)).attr("cy",173.3).attr("r",3.3).attr("fill",miniStormColors[i]).attr("stroke","#333").attr("stroke-width",0.6);});
  const ys=nudge([2,1.5,1,0.5,0].map(ym),4,-2); mlabels(["2.0","1.5","1.0","0.5","0.0"],[96,84,73,61,50],ys,RHC); }

// mini pressure
{ const y0=230,y1=306.7, ym=d3.scaleLinear().domain([1011.6,1018.05]).range([306.7,230]); const g=mpanel(y0,y1);
  const pts=d3.zip(miniPressH,miniPress);
  g.append("path").datum(pts).attr("d",d3.area().x(d=>mx(d[0])).y0(y1).y1(d=>ym(d[1]))).attr("fill","#ffff00");
  mgrid(g,y0,y1,[1018,1016,1014,1012].map(ym));
  g.append("path").datum(pts).attr("d",d3.line().x(d=>mx(d[0])).y(d=>ym(d[1]))).attr("fill","none").attr("stroke","#000").attr("stroke-width",2);
  mframe(y0,y1); const v=[1018,1016,1014,1012]; mlabels(v,v,nudge(v.map(ym),0,2)); }

// mini wind
{ const y0=315.7,y1=391.7, ym=d3.scaleLinear().domain([0,20]).range([391.7,315.7]); const g=mpanel(y0,y1);
  const pts=d3.zip(miniWindH,miniWind);
  const gc=g.append("g").attr("clip-path",clipD(d3.area().x(d=>mx(d[0])).y0(y1).y1(d=>ym(d[1]))(pts)));
  miniWindH.forEach((h,i)=>R(gc,mx(h-0.5),y0,mx(h+0.5)-mx(h-0.5)+0.5,y1-y0,windColor(miniWind[i])));
  mgrid(g,y0,y1,[15,10,5].map(ym));
  miniGusts.forEach(d=>g.append("line").attr("x1",mx(d[0])).attr("x2",mx(d[1])).attr("y1",ym(d[2])).attr("y2",ym(d[2])).attr("stroke","#ff0000").attr("stroke-width",1.4));
  g.append("path").datum(pts).attr("d",d3.line().x(d=>mx(d[0])).y(d=>ym(d[1]))).attr("fill","none").attr("stroke","#1a2ab4").attr("stroke-width",2.5);
  mframe(y0,y1); svg.append("circle").attr("cx",mx(16.4)).attr("cy",316.5).attr("r",2).attr("fill","#ff0000");
  mlabels([20,15,10,5,0],[72,54,36,18,0],[20,15,10,5,0].map(ym)); }

// mini wind direction
{ const y0=398.3,y1=430; const g=mpanel(y0,y1); R(g,MX0,y0,MX1-MX0,y1-y0,"#fff"); R(g,mx(21),y0,mx(30)-mx(21),y1-y0,"#ebf3fc");
  mgrid(g,y0,y1,[]); miniDirH.forEach(h=>arrow(g,mx(h),414,155,15,"#1a1aa8")); mframe(y0,y1); }

// mini cloud base
{ const y0=434,y1=514.5;
  const ym=d3.scaleLinear().domain([0,0.5,2,7,15]).range([514,494.25,474.5,454.75,435]).clamp(true);
  const yv=d3.scaleLinear().domain([0,1,5,20,100]).range([514,494.25,474.5,454.75,435]).clamp(true);
  const g=mpanel(y0,y1); mbands(g,y0,y1,"#87cefa","#7ab9e9");
  mgrid(g,y0,y1,[15,7,2,0.5].map(ym));
  g.append("path").datum(d3.zip(miniVisH,miniVis)).attr("d",d3.line().x(d=>mx(d[0])).y(d=>yv(d[1]))).attr("fill","none").attr("stroke","#ffa000").attr("stroke-width",2);
  const dot=(p,c)=>g.append("circle").attr("cx",mx(p[0])).attr("cy",ym(p[1])).attr("r",3.1).attr("fill",c);
  miniCb01.forEach(p=>dot(p,"#fff"));miniCb25.forEach(p=>dot(p,"#c8c8c8"));miniCb45.forEach(p=>dot(p,"#909090"));
  miniCb65.forEach(p=>dot(p,"#505050"));miniCb79.forEach(p=>dot(p,"#000"));miniCbTop.forEach(p=>dot(p,"#a41c1c"));
  mframe(y0,y1); mlabels(["15.0","7.0","2.0","0.5","0.0"],[100,20,5,1,0],nudge([15,7,2,0.5,0].map(ym),4,-3),ORANGE); }

// mini clouds
{ const y0=523.3,y1=601.7, ym=d3.scaleLinear().domain([0,8]).range([601.7,523.3]); const g=mpanel(y0,y1); mbands(g,y0,y1,"#87cefa","#7ab9e9");
  const ar=d3.area().x(d=>mx(d[0])).y0(y1).y1(d=>ym(d[1]));
  [[miniHigh,"#ffffff"],[miniMid,"#8f8f8f"],[miniLow,"#5e5e5e"],[miniVLow,"#404040"]].forEach(([a,c])=>g.append("path").datum(d3.zip(miniCloudH,a)).attr("d",ar).attr("fill",c));
  g.append("path").datum(d3.zip(miniCloudH,miniHigh)).attr("d",d3.line().x(d=>mx(d[0])).y(d=>ym(d[1]))).attr("fill","none").attr("stroke","#fff").attr("stroke-width",1);
  mgrid(g,y0,y1,[6,4,2].map(ym));
  miniFogH.forEach((h,i)=>g.append("rect").attr("x",mx(h)-2).attr("y",y1-miniFog[i]*(y1-y0)).attr("width",4).attr("height",miniFog[i]*(y1-y0)).attr("fill","#ffb000"));
  mframe(y0,y1); mlabels([8,6,4,2,0],["1","0.75","0.5","0.25","0"],nudge([8,6,4,2,0].map(ym),0,3),ORANGE); }

// legend texts
const legend = [
 ["Czas lokalny",6,15,"#000"],["(CET/CEST)",6,26,"#000"],
 ["Temperatura gruntu",6,42,"#a01818"],["max/min",27,53.3,"#a01818"],
 ["Temperatura:",6,64.5,"#000"],["punkt środkowy",13,76.7,"#ff0000"],["max/min",27,87.3,"#f5c4b8"],
 ["odczuwana",10,98.7,"#1010d0"],["max/min",27,109.3,"#a8dcf8"],["Temp. punktu rosy",6,120.5,"#6a5acd"],
 ["Opad powyżej skali",6,136.7,"#ff0000"],["Wilgotność względna",6,151.7,RHC],["Wystąpienie burzy",6,165.7,"#000"],
 ["Deszcz: max",6,180,"#00a000"],["średni",49,191,"#00a000"],["Śnieg:",6,202,"#1a3ad0"],["max",49,202,"#1a3ad0"],
 ["średni",49,213,"#1a3ad0"],["Wystąpienie opadu",6,224,"#ff0000"],["konwekcyjnego",6,237.7,"#ff0000"],
 ["Ciśnienie",6,263.3,"#000"],["zredukowane",6,276.7,"#000"],["do poziomu morza",6,288.3,"#000"],
 ["Wiatr na 10m:",6,318.3,"#000"],["poryw powyżej skali",10,334.3,"#ff0000"],["max porywy wiatru",10,349,"#ff0000"],
 ["prędkość wiatru",10,369,"#1010a0"],["w środku obszaru",10,380.7,"#1010a0"],["kierunek wiatru",10,409,"#1010a0"],
 ["Wierzchołek chmur",6,429,"#a01818"],["Podstawa chmur*",6,443.5,"#000"],["o pokryciu",6,455,"#000"],
 ["> 7.9 okt.",11,467,"#000",10.5],["> 6.5 okt.",11,478,"#505050",10.5],["> 4.5 okt.",11,489,"#909090",10.5],
 ["> 2.5 okt.",11,500,"#d4d4d4",10.5],["> 0.1 okt.",11,511,"#fff",10.5],["Widzialność",6,526.7,ORANGE],
 ["Chmury:",6,544,"#000"],["wysokie",11,556.7,"#fff"],["średnie",11,569.3,"#a0a0a0"],["niskie",11,582.3,"#303030"],
 ["bardzo niskie",11,593.8,"#202020"],["Mgła",6,605,"#ffaa00"]];
R(svg,10,504.5,47,13,"#88c8f4"); R(svg,10,550,43,13.5,"#88c8f4");
const leaders = [
 [[[67,15.7],[136.7,15.7],[156.7,42]],"#000"],[[[103,42],[118,42],[147.3,81.7]],"#a01818"],
 [[[92,76.7],[117,76.7]],"#ff0000"],[[[132,77],[136,77],[156.7,99]],"#ff0000"],
 [[[68,98.7],[117,98.7]],"#1010d0"],[[[132,98.7],[140,101]],"#1010d0"],[[[95,120.5],[136,118]],"#6a5acd"],
 [[[104,136.7],[146.7,136.7],[146.7,144.5]],"#ff0000"],[[[112,151.7],[117,151.7]],RHC],[[[131,151.7],[143.3,163.3]],RHC],
 [[[94,165.7],[117,165.7]],"#000"],[[[131,165.7],[139,171]],"#000"],[[[70,180],[139,180]],"#00a000"],
 [[[80,191],[138,191]],"#00a000"],[[[70,202],[112,202]],"#1a3ad0"],[[[131,202],[160,171]],"#1a3ad0"],
 [[[80,213],[136,213],[160,176]],"#1a3ad0"],[[[101,225],[143,225]],"#ff0000"],
 [[[50,263.3],[131,263.3],[136,261.7]],"#000"],[[[113,334.3],[119,334.3]],"#ff0000"],[[[127,334.3],[138.3,317]],"#ff0000"],
 [[[106,349],[130,349],[143,340]],"#ff0000"],[[[92,369],[136,367]],"#1010a0"],[[[84,409],[136,409]],"#1010a0"],
 [[[97,430],[130,431.7],[181.7,448.3]],"#a01818"],[[[55,467],[131,467],[191.7,455.5]],"#000"],
 [[[55,478],[131,478],[143.3,481.7]],"#505050"],[[[55,489],[132,489],[138,499]],"#909090"],
 [[[55,500],[130,500],[137,505]],"#d4d4d4"],[[[57,511],[136,512]],"#88c8f4"],
 [[[64,526.7],[125,526.7]],ORANGE],[[[131,523.3],[173.3,465]],ORANGE],
 [[[53,556.7],[185,556.7]],"#88c8f4"],[[[57,569.3],[192,569.3]],"#a0a0a0"],
 [[[44,582.3],[125,582.3]],"#303030"],[[[131,582.3],[143,582]],"#303030"],[[[74,593.8],[140,593.8],[150,597]],"#202020"],
 [[[29,603.3],[216.7,603.3],[216.7,596]],"#ffaa00"],[[[139,621.7],[147,621.7],[160,614]],"#000"]];
leaders.forEach(([p,c])=>L(svg,p,c,1));
legend.forEach(([s,x0,y0,c,fs])=>T(svg,x0,y0,s,{fill:c,size:fs||11}));
T(svg,6,621.7,"Czas uniwersalny (UTC)",{size:12});
T(svg,5,648,"* powyżej poziomu morza",{size:9,weight:"bold"});
</script></body></html>
